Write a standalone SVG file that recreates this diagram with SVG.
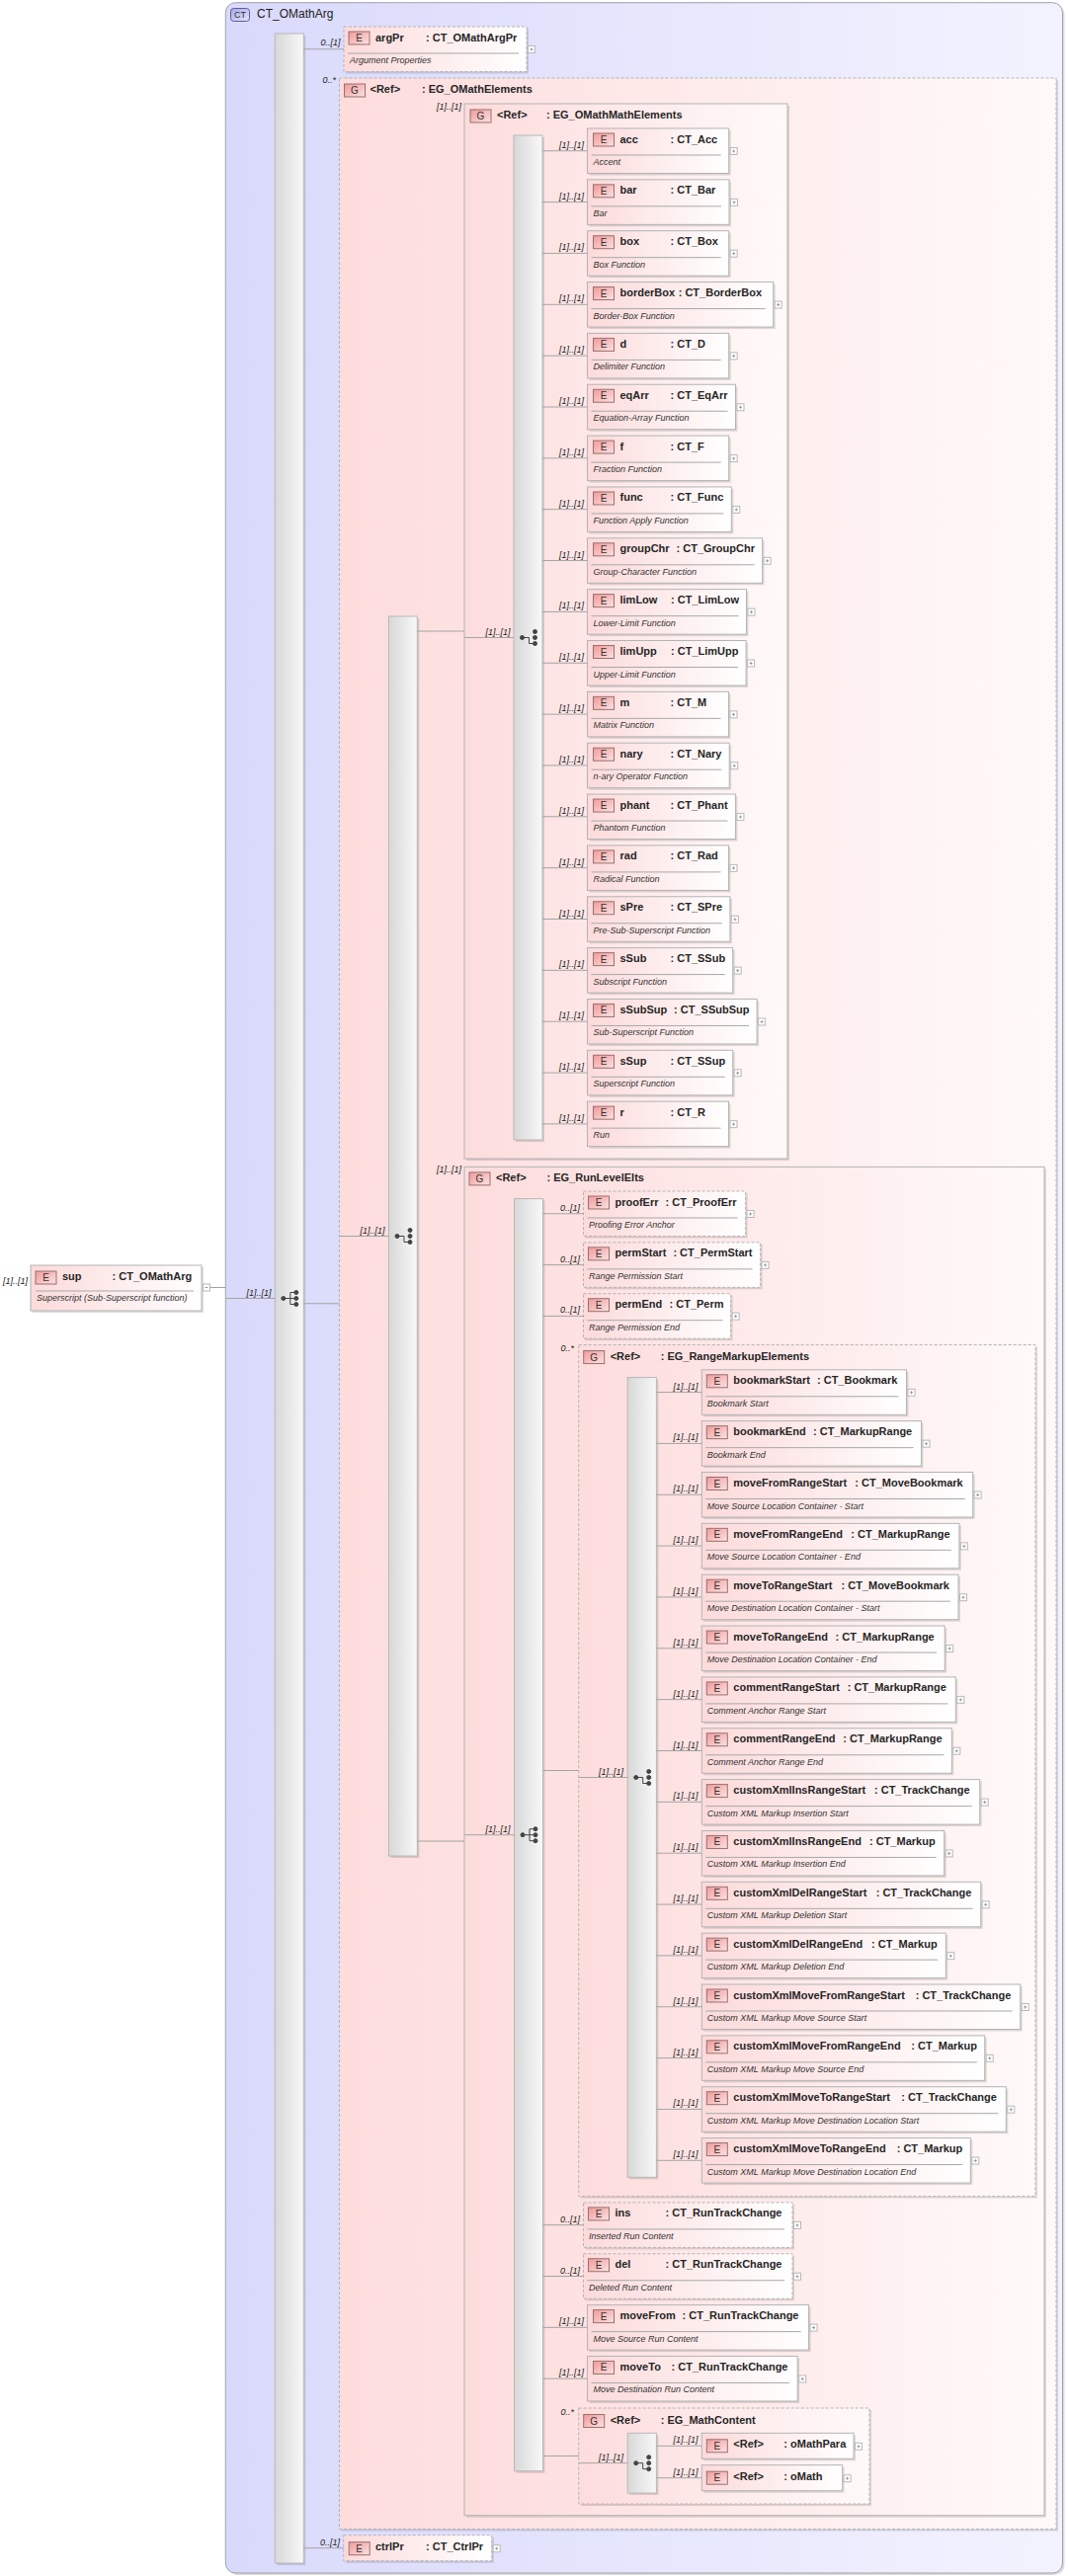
<svg xmlns="http://www.w3.org/2000/svg" width="1081" height="2608" viewBox="0 0 1081 2608">
<defs>
<style>
text{font-family:"Liberation Sans",Arial,sans-serif}
.n{font-size:11px;font-weight:bold;fill:#262626}
.d{font-size:9px;font-style:italic;fill:#333}
.c{font-size:9px;font-style:italic;fill:#222;text-anchor:end}
.il{font-size:10px;fill:#333;text-anchor:middle}
.ln{stroke:#a4a4a4;stroke-width:1;fill:none}
.bx{fill:url(#gE);stroke:#b4b4b4}
.gp{fill:url(#gG);stroke:#b4b4b4}
.ds{stroke-dasharray:3 2}
.sh{fill:#000;fill-opacity:.13}
.sp{stroke:#a8a8a8;fill:none}
.br{fill:url(#gB);stroke:#b8b8b8}
.ic{fill:url(#gI);stroke:#9c6f6f}
.ico{fill:#444;stroke:#444;stroke-width:1}
</style>
<linearGradient id="gCT"><stop offset="0" stop-color="#d9d9fb"/><stop offset="1" stop-color="#f3f3ff"/></linearGradient>
<linearGradient id="gG"><stop offset="0" stop-color="#fddcdc"/><stop offset="1" stop-color="#fff9f9"/></linearGradient>
<linearGradient id="gE"><stop offset="0" stop-color="#fcdada"/><stop offset="1" stop-color="#ffffff"/></linearGradient>
<linearGradient id="gB"><stop offset="0" stop-color="#d8d8d8"/><stop offset="1" stop-color="#f8f8f8"/></linearGradient>
<linearGradient id="gI" x2="1" y2="1"><stop offset="0" stop-color="#ef9a9a"/><stop offset="1" stop-color="#fde2e2"/></linearGradient>
<linearGradient id="gC" x2="1" y2="1"><stop offset="0" stop-color="#a8a8e8"/><stop offset="1" stop-color="#e4e4fc"/></linearGradient>
<g id="pl"><rect x=".5" y=".5" width="7" height="7" fill="#fff" stroke="#b8b8b8"/><path d="M2.5 4H5.5M4 2.5V5.5" stroke="#999"/></g>
<g id="mi"><rect x=".5" y=".5" width="7" height="7" fill="#fff" stroke="#b8b8b8"/><path d="M2.5 4H5.5" stroke="#999"/></g>
<g id="seq" class="ico"><circle cx="8.5" cy="0" r="2"/><path d="M8.5 0H15.5M15.5 -6V6M15.5 -6H21M15.5 0H21M15.5 6H21" fill="none"/><circle cx="21.5" cy="-6" r="2"/><circle cx="21.5" cy="0" r="2"/><circle cx="21.5" cy="6" r="2"/></g>
<g id="cho" class="ico"><circle cx="8.5" cy="0" r="2"/><path d="M8.5 0H15.5V6H21" fill="none"/><circle cx="21.5" cy="-6" r="2"/><circle cx="21.5" cy="0" r="2"/><circle cx="21.5" cy="6" r="2"/></g>
</defs>
<rect width="1081" height="2608" fill="#fff"/>

<!-- left element -->
<g id="n-sup" transform="translate(31,1281)">
<rect class="sh" x="2" y="2" width="173" height="46"/>
<rect class="bx" width="173" height="46"/>
<rect class="ic" x="5" y="6" width="21" height="13"/><text class="il" x="15.5" y="16">E</text>
<text class="n" x="32" y="15">sup</text><text class="n" x="82.6" y="15">: CT_OMathArg</text>
<path class="sp" d="M5 26H165"/>
<text class="d" x="6" y="36">Superscript (Sub-Superscript function)</text>
<use href="#mi" x="174" y="18.5"/>
</g>

<!-- complex type -->
<g id="n-CT_OMathArg">
<rect class="sh" x="230.3" y="4.7" width="847.2" height="2602.3" rx="10"/>
<rect x="228.3" y="2.7" width="847.2" height="2602.3" rx="10" fill="url(#gCT)" stroke="#a0a0a8"/>
<rect x="233.5" y="8.5" width="19" height="13" rx="3" fill="url(#gC)" stroke="#5c5c9c"/>
<text x="243" y="18.3" class="il" style="font-size:9px">CT</text>
<text x="260" y="18" font-size="12" fill="#222">CT_OMathArg</text>
</g>

<g id="c-seq-CT_OMathArg">
<rect class="sh" x="280.3" y="36" width="29" height="2561"/>
<rect class="br" x="278.3" y="34" width="29" height="2561"/>
<use href="#seq" x="278.3" y="1314.5"/>
</g>

<g id="n-argPr" transform="translate(348,27)">
<rect class="sh" x="2" y="2" width="185" height="45.5"/>
<rect class="bx ds" width="185" height="45.5"/>
<rect class="ic" x="5" y="5" width="21" height="13"/><text class="il" x="15.5" y="15">E</text>
<text class="n" x="32" y="14.5">argPr</text><text class="n" x="83" y="14.5">: CT_OMathArgPr</text>
<path class="sp" d="M4 27H177"/>
<text class="d" x="6" y="37">Argument Properties</text>
<use href="#pl" x="186" y="19"/>
</g>

<g id="n-EG_OMathElements" transform="translate(343.5,79)">
<rect class="sh" x="2" y="2" width="725.5" height="2481.5"/>
<rect class="gp ds" width="725.5" height="2481.5"/>
<rect class="ic" x="5" y="6" width="21" height="13"/><text class="il" x="15.5" y="16">G</text>
<text class="n" x="31" y="14.5">&lt;Ref&gt;</text><text class="n" x="83.5" y="14.5">: EG_OMathElements</text>
</g>

<g id="c-cho-EG_OMathElements">
<rect class="sh" x="395.5" y="626" width="28.8" height="1255"/>
<rect class="br" x="393.5" y="624" width="28.8" height="1255"/>
<use href="#cho" x="393.5" y="1251.5"/>
</g>

<g id="n-EG_OMathMathElements" transform="translate(470,105)">
<rect class="sh" x="2" y="2" width="327" height="1068"/>
<rect class="gp" width="327" height="1068"/>
<rect class="ic" x="6" y="6" width="21" height="13"/><text class="il" x="16.5" y="16">G</text>
<text class="n" x="33" y="14.5">&lt;Ref&gt;</text><text class="n" x="83" y="14.5">: EG_OMathMathElements</text>
</g>

<g id="c-cho-EG_OMathMathElements">
<rect class="sh" x="522" y="139" width="29" height="1017"/>
<rect class="br" x="520" y="137" width="29" height="1017"/>
<use href="#cho" x="520" y="645.5"/>
</g>

<g id="n-acc" transform="translate(594.5,130)"><rect class="sh" x="2" y="2" width="143.2" height="45.5"/><rect class="bx" width="143.2" height="45.5"/><rect class="ic" x="6" y="5" width="21" height="13"/><text class="il" x="16.5" y="15">E</text><text class="n" x="33" y="14.5">acc</text><text class="n" x="84" y="14.5">: CT_Acc</text><path class="sp" d="M4 27H135.2"/><text class="d" x="6" y="37">Accent</text><use href="#pl" x="144.2" y="19"/></g>
<g id="n-bar" transform="translate(594.5,181.85)"><rect class="sh" x="2" y="2" width="143.5" height="45.5"/><rect class="bx" width="143.5" height="45.5"/><rect class="ic" x="6" y="5" width="21" height="13"/><text class="il" x="16.5" y="15">E</text><text class="n" x="33" y="14.5">bar</text><text class="n" x="84" y="14.5">: CT_Bar</text><path class="sp" d="M4 27H135.5"/><text class="d" x="6" y="37">Bar</text><use href="#pl" x="144.5" y="19"/></g>
<g id="n-box" transform="translate(594.5,233.7)"><rect class="sh" x="2" y="2" width="143.2" height="45.5"/><rect class="bx" width="143.2" height="45.5"/><rect class="ic" x="6" y="5" width="21" height="13"/><text class="il" x="16.5" y="15">E</text><text class="n" x="33" y="14.5">box</text><text class="n" x="84" y="14.5">: CT_Box</text><path class="sp" d="M4 27H135.2"/><text class="d" x="6" y="37">Box Function</text><use href="#pl" x="144.2" y="19"/></g>
<g id="n-borderBox" transform="translate(594.5,285.55)"><rect class="sh" x="2" y="2" width="188.2" height="45.5"/><rect class="bx" width="188.2" height="45.5"/><rect class="ic" x="6" y="5" width="21" height="13"/><text class="il" x="16.5" y="15">E</text><text class="n" x="33" y="14.5">borderBox</text><text class="n" x="92.2" y="14.5">: CT_BorderBox</text><path class="sp" d="M4 27H180.2"/><text class="d" x="6" y="37">Border-Box Function</text><use href="#pl" x="189.2" y="19"/></g>
<g id="n-d" transform="translate(594.5,337.4)"><rect class="sh" x="2" y="2" width="143.2" height="45.5"/><rect class="bx" width="143.2" height="45.5"/><rect class="ic" x="6" y="5" width="21" height="13"/><text class="il" x="16.5" y="15">E</text><text class="n" x="33" y="14.5">d</text><text class="n" x="84" y="14.5">: CT_D</text><path class="sp" d="M4 27H135.2"/><text class="d" x="6" y="37">Delimiter Function</text><use href="#pl" x="144.2" y="19"/></g>
<g id="n-eqArr" transform="translate(594.5,389.25)"><rect class="sh" x="2" y="2" width="150" height="45.5"/><rect class="bx" width="150" height="45.5"/><rect class="ic" x="6" y="5" width="21" height="13"/><text class="il" x="16.5" y="15">E</text><text class="n" x="33" y="14.5">eqArr</text><text class="n" x="84" y="14.5">: CT_EqArr</text><path class="sp" d="M4 27H142"/><text class="d" x="6" y="37">Equation-Array Function</text><use href="#pl" x="151" y="19"/></g>
<g id="n-f" transform="translate(594.5,441.1)"><rect class="sh" x="2" y="2" width="143.2" height="45.5"/><rect class="bx" width="143.2" height="45.5"/><rect class="ic" x="6" y="5" width="21" height="13"/><text class="il" x="16.5" y="15">E</text><text class="n" x="33" y="14.5">f</text><text class="n" x="84" y="14.5">: CT_F</text><path class="sp" d="M4 27H135.2"/><text class="d" x="6" y="37">Fraction Function</text><use href="#pl" x="144.2" y="19"/></g>
<g id="n-func" transform="translate(594.5,492.95)"><rect class="sh" x="2" y="2" width="145.8" height="45.5"/><rect class="bx" width="145.8" height="45.5"/><rect class="ic" x="6" y="5" width="21" height="13"/><text class="il" x="16.5" y="15">E</text><text class="n" x="33" y="14.5">func</text><text class="n" x="84" y="14.5">: CT_Func</text><path class="sp" d="M4 27H137.8"/><text class="d" x="6" y="37">Function Apply Function</text><use href="#pl" x="146.8" y="19"/></g>
<g id="n-groupChr" transform="translate(594.5,544.8)"><rect class="sh" x="2" y="2" width="177.1" height="45.5"/><rect class="bx" width="177.1" height="45.5"/><rect class="ic" x="6" y="5" width="21" height="13"/><text class="il" x="16.5" y="15">E</text><text class="n" x="33" y="14.5">groupChr</text><text class="n" x="90" y="14.5">: CT_GroupChr</text><path class="sp" d="M4 27H169.1"/><text class="d" x="6" y="37">Group-Character Function</text><use href="#pl" x="178.1" y="19"/></g>
<g id="n-limLow" transform="translate(594.5,596.65)"><rect class="sh" x="2" y="2" width="161" height="45.5"/><rect class="bx" width="161" height="45.5"/><rect class="ic" x="6" y="5" width="21" height="13"/><text class="il" x="16.5" y="15">E</text><text class="n" x="33" y="14.5">limLow</text><text class="n" x="84.5" y="14.5">: CT_LimLow</text><path class="sp" d="M4 27H153"/><text class="d" x="6" y="37">Lower-Limit Function</text><use href="#pl" x="162" y="19"/></g>
<g id="n-limUpp" transform="translate(594.5,648.5)"><rect class="sh" x="2" y="2" width="160.6" height="45.5"/><rect class="bx" width="160.6" height="45.5"/><rect class="ic" x="6" y="5" width="21" height="13"/><text class="il" x="16.5" y="15">E</text><text class="n" x="33" y="14.5">limUpp</text><text class="n" x="84.5" y="14.5">: CT_LimUpp</text><path class="sp" d="M4 27H152.6"/><text class="d" x="6" y="37">Upper-Limit Function</text><use href="#pl" x="161.6" y="19"/></g>
<g id="n-m" transform="translate(594.5,700.35)"><rect class="sh" x="2" y="2" width="143" height="45.5"/><rect class="bx" width="143" height="45.5"/><rect class="ic" x="6" y="5" width="21" height="13"/><text class="il" x="16.5" y="15">E</text><text class="n" x="33" y="14.5">m</text><text class="n" x="84" y="14.5">: CT_M</text><path class="sp" d="M4 27H135"/><text class="d" x="6" y="37">Matrix Function</text><use href="#pl" x="144" y="19"/></g>
<g id="n-nary" transform="translate(594.5,752.2)"><rect class="sh" x="2" y="2" width="143.7" height="45.5"/><rect class="bx" width="143.7" height="45.5"/><rect class="ic" x="6" y="5" width="21" height="13"/><text class="il" x="16.5" y="15">E</text><text class="n" x="33" y="14.5">nary</text><text class="n" x="84" y="14.5">: CT_Nary</text><path class="sp" d="M4 27H135.7"/><text class="d" x="6" y="37">n-ary Operator Function</text><use href="#pl" x="144.7" y="19"/></g>
<g id="n-phant" transform="translate(594.5,804.05)"><rect class="sh" x="2" y="2" width="149.9" height="45.5"/><rect class="bx" width="149.9" height="45.5"/><rect class="ic" x="6" y="5" width="21" height="13"/><text class="il" x="16.5" y="15">E</text><text class="n" x="33" y="14.5">phant</text><text class="n" x="84" y="14.5">: CT_Phant</text><path class="sp" d="M4 27H141.9"/><text class="d" x="6" y="37">Phantom Function</text><use href="#pl" x="150.9" y="19"/></g>
<g id="n-rad" transform="translate(594.5,855.9)"><rect class="sh" x="2" y="2" width="143" height="45.5"/><rect class="bx" width="143" height="45.5"/><rect class="ic" x="6" y="5" width="21" height="13"/><text class="il" x="16.5" y="15">E</text><text class="n" x="33" y="14.5">rad</text><text class="n" x="84" y="14.5">: CT_Rad</text><path class="sp" d="M4 27H135"/><text class="d" x="6" y="37">Radical Function</text><use href="#pl" x="144" y="19"/></g>
<g id="n-sPre" transform="translate(594.5,907.75)"><rect class="sh" x="2" y="2" width="144.4" height="45.5"/><rect class="bx" width="144.4" height="45.5"/><rect class="ic" x="6" y="5" width="21" height="13"/><text class="il" x="16.5" y="15">E</text><text class="n" x="33" y="14.5">sPre</text><text class="n" x="84" y="14.5">: CT_SPre</text><path class="sp" d="M4 27H136.4"/><text class="d" x="6" y="37">Pre-Sub-Superscript Function</text><use href="#pl" x="145.4" y="19"/></g>
<g id="n-sSub" transform="translate(594.5,959.6)"><rect class="sh" x="2" y="2" width="147.2" height="45.5"/><rect class="bx" width="147.2" height="45.5"/><rect class="ic" x="6" y="5" width="21" height="13"/><text class="il" x="16.5" y="15">E</text><text class="n" x="33" y="14.5">sSub</text><text class="n" x="84" y="14.5">: CT_SSub</text><path class="sp" d="M4 27H139.2"/><text class="d" x="6" y="37">Subscript Function</text><use href="#pl" x="148.2" y="19"/></g>
<g id="n-sSubSup" transform="translate(594.5,1011.45)"><rect class="sh" x="2" y="2" width="171.6" height="45.5"/><rect class="bx" width="171.6" height="45.5"/><rect class="ic" x="6" y="5" width="21" height="13"/><text class="il" x="16.5" y="15">E</text><text class="n" x="33" y="14.5">sSubSup</text><text class="n" x="87.6" y="14.5">: CT_SSubSup</text><path class="sp" d="M4 27H163.6"/><text class="d" x="6" y="37">Sub-Superscript Function</text><use href="#pl" x="172.6" y="19"/></g>
<g id="n-sSup" transform="translate(594.5,1063.3)"><rect class="sh" x="2" y="2" width="147.2" height="45.5"/><rect class="bx" width="147.2" height="45.5"/><rect class="ic" x="6" y="5" width="21" height="13"/><text class="il" x="16.5" y="15">E</text><text class="n" x="33" y="14.5">sSup</text><text class="n" x="84" y="14.5">: CT_SSup</text><path class="sp" d="M4 27H139.2"/><text class="d" x="6" y="37">Superscript Function</text><use href="#pl" x="148.2" y="19"/></g>
<g id="n-r" transform="translate(594.5,1115.15)"><rect class="sh" x="2" y="2" width="143" height="45.5"/><rect class="bx" width="143" height="45.5"/><rect class="ic" x="6" y="5" width="21" height="13"/><text class="il" x="16.5" y="15">E</text><text class="n" x="33" y="14.5">r</text><text class="n" x="84" y="14.5">: CT_R</text><path class="sp" d="M4 27H135"/><text class="d" x="6" y="37">Run</text><use href="#pl" x="144" y="19"/></g>

<g id="n-EG_RunLevelElts" transform="translate(470,1181.4)">
<rect class="sh" x="2" y="2" width="587" height="1365.3"/>
<rect class="gp" width="587" height="1365.3"/>
<rect class="ic" x="5" y="5.5" width="21" height="13"/><text class="il" x="15.5" y="15.5">G</text>
<text class="n" x="32" y="14.5">&lt;Ref&gt;</text><text class="n" x="83.5" y="14.5">: EG_RunLevelElts</text>
</g>

<g id="c-seq-EG_RunLevelElts">
<rect class="sh" x="522.5" y="1215.6" width="29" height="1288.1"/>
<rect class="br" x="520.5" y="1213.6" width="29" height="1288.1"/>
<use href="#seq" x="520.5" y="1857.7"/>
</g>

<g id="n-proofErr" transform="translate(590.5,1206)"><rect class="sh" x="2" y="2" width="164.1" height="45.5"/><rect class="bx ds" width="164.1" height="45.5"/><rect class="ic" x="5" y="5" width="21" height="13"/><text class="il" x="15.5" y="15">E</text><text class="n" x="32" y="14.5">proofErr</text><text class="n" x="83" y="14.5">: CT_ProofErr</text><path class="sp" d="M4 27H156.1"/><text class="d" x="5.5" y="37">Proofing Error Anchor</text><use href="#pl" x="165.1" y="19"/></g>
<g id="n-permStart" transform="translate(590.5,1257.85)"><rect class="sh" x="2" y="2" width="179.1" height="45.5"/><rect class="bx ds" width="179.1" height="45.5"/><rect class="ic" x="5" y="5" width="21" height="13"/><text class="il" x="15.5" y="15">E</text><text class="n" x="32" y="14.5">permStart</text><text class="n" x="90.9" y="14.5">: CT_PermStart</text><path class="sp" d="M4 27H171.1"/><text class="d" x="5.5" y="37">Range Permission Start</text><use href="#pl" x="180.1" y="19"/></g>
<g id="n-permEnd" transform="translate(590.5,1309.7)"><rect class="sh" x="2" y="2" width="149.1" height="45.5"/><rect class="bx ds" width="149.1" height="45.5"/><rect class="ic" x="5" y="5" width="21" height="13"/><text class="il" x="15.5" y="15">E</text><text class="n" x="32" y="14.5">permEnd</text><text class="n" x="87" y="14.5">: CT_Perm</text><path class="sp" d="M4 27H141.1"/><text class="d" x="5.5" y="37">Range Permission End</text><use href="#pl" x="150.1" y="19"/></g>

<g id="n-EG_RangeMarkupElements" transform="translate(585.7,1361.55)">
<rect class="sh" x="2" y="2" width="462.3" height="862"/>
<rect class="gp ds" width="462.3" height="862"/>
<rect class="ic" x="5" y="6" width="21" height="13"/><text class="il" x="15.5" y="16">G</text>
<text class="n" x="32" y="15">&lt;Ref&gt;</text><text class="n" x="83" y="15">: EG_RangeMarkupElements</text>
</g>

<g id="c-cho-EG_RangeMarkupElements">
<rect class="sh" x="637.2" y="1396.6" width="29.2" height="809.7"/>
<rect class="br" x="635.2" y="1394.6" width="29.2" height="809.7"/>
<use href="#cho" x="635.2" y="1799.5"/>
</g>

<g id="n-bookmarkStart" transform="translate(710.3,1386.8)"><rect class="sh" x="2" y="2" width="207.2" height="45.5"/><rect class="bx" width="207.2" height="45.5"/><rect class="ic" x="5" y="5" width="21" height="13"/><text class="il" x="15.5" y="15">E</text><text class="n" x="32" y="14.5">bookmarkStart</text><text class="n" x="116.7" y="14.5">: CT_Bookmark</text><path class="sp" d="M4 27H199.2"/><text class="d" x="5.5" y="37">Bookmark Start</text><use href="#pl" x="208.2" y="19"/></g>
<g id="n-bookmarkEnd" transform="translate(710.3,1438.65)"><rect class="sh" x="2" y="2" width="222.2" height="45.5"/><rect class="bx" width="222.2" height="45.5"/><rect class="ic" x="5" y="5" width="21" height="13"/><text class="il" x="15.5" y="15">E</text><text class="n" x="32" y="14.5">bookmarkEnd</text><text class="n" x="112.7" y="14.5">: CT_MarkupRange</text><path class="sp" d="M4 27H214.2"/><text class="d" x="5.5" y="37">Bookmark End</text><use href="#pl" x="223.2" y="19"/></g>
<g id="n-moveFromRangeStart" transform="translate(710.3,1490.5)"><rect class="sh" x="2" y="2" width="274.4" height="45.5"/><rect class="bx" width="274.4" height="45.5"/><rect class="ic" x="5" y="5" width="21" height="13"/><text class="il" x="15.5" y="15">E</text><text class="n" x="32" y="14.5">moveFromRangeStart</text><text class="n" x="155" y="14.5">: CT_MoveBookmark</text><path class="sp" d="M4 27H266.4"/><text class="d" x="5.5" y="37">Move Source Location Container - Start</text><use href="#pl" x="275.4" y="19"/></g>
<g id="n-moveFromRangeEnd" transform="translate(710.3,1542.35)"><rect class="sh" x="2" y="2" width="260.6" height="45.5"/><rect class="bx" width="260.6" height="45.5"/><rect class="ic" x="5" y="5" width="21" height="13"/><text class="il" x="15.5" y="15">E</text><text class="n" x="32" y="14.5">moveFromRangeEnd</text><text class="n" x="151" y="14.5">: CT_MarkupRange</text><path class="sp" d="M4 27H252.6"/><text class="d" x="5.5" y="37">Move Source Location Container - End</text><use href="#pl" x="261.6" y="19"/></g>
<g id="n-moveToRangeStart" transform="translate(710.3,1594.2)"><rect class="sh" x="2" y="2" width="259.7" height="45.5"/><rect class="bx" width="259.7" height="45.5"/><rect class="ic" x="5" y="5" width="21" height="13"/><text class="il" x="15.5" y="15">E</text><text class="n" x="32" y="14.5">moveToRangeStart</text><text class="n" x="141.2" y="14.5">: CT_MoveBookmark</text><path class="sp" d="M4 27H251.7"/><text class="d" x="5.5" y="37">Move Destination Location Container - Start</text><use href="#pl" x="260.7" y="19"/></g>
<g id="n-moveToRangeEnd" transform="translate(710.3,1646.05)"><rect class="sh" x="2" y="2" width="245.9" height="45.5"/><rect class="bx" width="245.9" height="45.5"/><rect class="ic" x="5" y="5" width="21" height="13"/><text class="il" x="15.5" y="15">E</text><text class="n" x="32" y="14.5">moveToRangeEnd</text><text class="n" x="135.2" y="14.5">: CT_MarkupRange</text><path class="sp" d="M4 27H237.9"/><text class="d" x="5.5" y="37">Move Destination Location Container - End</text><use href="#pl" x="246.9" y="19"/></g>
<g id="n-commentRangeStart" transform="translate(710.3,1697.9)"><rect class="sh" x="2" y="2" width="257" height="45.5"/><rect class="bx" width="257" height="45.5"/><rect class="ic" x="5" y="5" width="21" height="13"/><text class="il" x="15.5" y="15">E</text><text class="n" x="32" y="14.5">commentRangeStart</text><text class="n" x="147.4" y="14.5">: CT_MarkupRange</text><path class="sp" d="M4 27H249"/><text class="d" x="5.5" y="37">Comment Anchor Range Start</text><use href="#pl" x="258" y="19"/></g>
<g id="n-commentRangeEnd" transform="translate(710.3,1749.75)"><rect class="sh" x="2" y="2" width="253" height="45.5"/><rect class="bx" width="253" height="45.5"/><rect class="ic" x="5" y="5" width="21" height="13"/><text class="il" x="15.5" y="15">E</text><text class="n" x="32" y="14.5">commentRangeEnd</text><text class="n" x="143" y="14.5">: CT_MarkupRange</text><path class="sp" d="M4 27H245"/><text class="d" x="5.5" y="37">Comment Anchor Range End</text><use href="#pl" x="254" y="19"/></g>
<g id="n-customXmlInsRangeStart" transform="translate(710.3,1801.6)"><rect class="sh" x="2" y="2" width="281.4" height="45.5"/><rect class="bx" width="281.4" height="45.5"/><rect class="ic" x="5" y="5" width="21" height="13"/><text class="il" x="15.5" y="15">E</text><text class="n" x="32" y="14.5">customXmlInsRangeStart</text><text class="n" x="174.7" y="14.5">: CT_TrackChange</text><path class="sp" d="M4 27H273.4"/><text class="d" x="5.5" y="37">Custom XML Markup Insertion Start</text><use href="#pl" x="282.4" y="19"/></g>
<g id="n-customXmlInsRangeEnd" transform="translate(710.3,1853.45)"><rect class="sh" x="2" y="2" width="245.4" height="45.5"/><rect class="bx" width="245.4" height="45.5"/><rect class="ic" x="5" y="5" width="21" height="13"/><text class="il" x="15.5" y="15">E</text><text class="n" x="32" y="14.5">customXmlInsRangeEnd</text><text class="n" x="169.7" y="14.5">: CT_Markup</text><path class="sp" d="M4 27H237.4"/><text class="d" x="5.5" y="37">Custom XML Markup Insertion End</text><use href="#pl" x="246.4" y="19"/></g>
<g id="n-customXmlDelRangeStart" transform="translate(710.3,1905.3)"><rect class="sh" x="2" y="2" width="282.4" height="45.5"/><rect class="bx" width="282.4" height="45.5"/><rect class="ic" x="5" y="5" width="21" height="13"/><text class="il" x="15.5" y="15">E</text><text class="n" x="32" y="14.5">customXmlDelRangeStart</text><text class="n" x="176.4" y="14.5">: CT_TrackChange</text><path class="sp" d="M4 27H274.4"/><text class="d" x="5.5" y="37">Custom XML Markup Deletion Start</text><use href="#pl" x="283.4" y="19"/></g>
<g id="n-customXmlDelRangeEnd" transform="translate(710.3,1957.15)"><rect class="sh" x="2" y="2" width="247" height="45.5"/><rect class="bx" width="247" height="45.5"/><rect class="ic" x="5" y="5" width="21" height="13"/><text class="il" x="15.5" y="15">E</text><text class="n" x="32" y="14.5">customXmlDelRangeEnd</text><text class="n" x="171.7" y="14.5">: CT_Markup</text><path class="sp" d="M4 27H239"/><text class="d" x="5.5" y="37">Custom XML Markup Deletion End</text><use href="#pl" x="248" y="19"/></g>
<g id="n-customXmlMoveFromRangeStart" transform="translate(710.3,2009)"><rect class="sh" x="2" y="2" width="322.4" height="45.5"/><rect class="bx" width="322.4" height="45.5"/><rect class="ic" x="5" y="5" width="21" height="13"/><text class="il" x="15.5" y="15">E</text><text class="n" x="32" y="14.5">customXmlMoveFromRangeStart</text><text class="n" x="216.4" y="14.5">: CT_TrackChange</text><path class="sp" d="M4 27H314.4"/><text class="d" x="5.5" y="37">Custom XML Markup Move Source Start</text><use href="#pl" x="323.4" y="19"/></g>
<g id="n-customXmlMoveFromRangeEnd" transform="translate(710.3,2060.85)"><rect class="sh" x="2" y="2" width="286.4" height="45.5"/><rect class="bx" width="286.4" height="45.5"/><rect class="ic" x="5" y="5" width="21" height="13"/><text class="il" x="15.5" y="15">E</text><text class="n" x="32" y="14.5">customXmlMoveFromRangeEnd</text><text class="n" x="212" y="14.5">: CT_Markup</text><path class="sp" d="M4 27H278.4"/><text class="d" x="5.5" y="37">Custom XML Markup Move Source End</text><use href="#pl" x="287.4" y="19"/></g>
<g id="n-customXmlMoveToRangeStart" transform="translate(710.3,2112.7)"><rect class="sh" x="2" y="2" width="308" height="45.5"/><rect class="bx" width="308" height="45.5"/><rect class="ic" x="5" y="5" width="21" height="13"/><text class="il" x="15.5" y="15">E</text><text class="n" x="32" y="14.5">customXmlMoveToRangeStart</text><text class="n" x="202" y="14.5">: CT_TrackChange</text><path class="sp" d="M4 27H300"/><text class="d" x="5.5" y="37">Custom XML Markup Move Destination Location Start</text><use href="#pl" x="309" y="19"/></g>
<g id="n-customXmlMoveToRangeEnd" transform="translate(710.3,2164.55)"><rect class="sh" x="2" y="2" width="272" height="45.5"/><rect class="bx" width="272" height="45.5"/><rect class="ic" x="5" y="5" width="21" height="13"/><text class="il" x="15.5" y="15">E</text><text class="n" x="32" y="14.5">customXmlMoveToRangeEnd</text><text class="n" x="197.4" y="14.5">: CT_Markup</text><path class="sp" d="M4 27H264"/><text class="d" x="5.5" y="37">Custom XML Markup Move Destination Location End</text><use href="#pl" x="273" y="19"/></g>

<g id="n-ins" transform="translate(590.5,2229.9)"><rect class="sh" x="2" y="2" width="211.5" height="45.5"/><rect class="bx ds" width="211.5" height="45.5"/><rect class="ic" x="5" y="5" width="21" height="13"/><text class="il" x="15.5" y="15">E</text><text class="n" x="32" y="14.5">ins</text><text class="n" x="83" y="14.5">: CT_RunTrackChange</text><path class="sp" d="M4 27H203.5"/><text class="d" x="5.5" y="37">Inserted Run Content</text><use href="#pl" x="212.5" y="19"/></g>
<g id="n-del" transform="translate(590.5,2281.75)"><rect class="sh" x="2" y="2" width="211.5" height="45.5"/><rect class="bx ds" width="211.5" height="45.5"/><rect class="ic" x="5" y="5" width="21" height="13"/><text class="il" x="15.5" y="15">E</text><text class="n" x="32" y="14.5">del</text><text class="n" x="83" y="14.5">: CT_RunTrackChange</text><path class="sp" d="M4 27H203.5"/><text class="d" x="5.5" y="37">Deleted Run Content</text><use href="#pl" x="212.5" y="19"/></g>
<g id="n-moveFrom" transform="translate(594.5,2333.6)"><rect class="sh" x="2" y="2" width="224.1" height="45.5"/><rect class="bx" width="224.1" height="45.5"/><rect class="ic" x="6" y="5" width="21" height="13"/><text class="il" x="16.5" y="15">E</text><text class="n" x="33" y="14.5">moveFrom</text><text class="n" x="96" y="14.5">: CT_RunTrackChange</text><path class="sp" d="M4 27H216.1"/><text class="d" x="6" y="37">Move Source Run Content</text><use href="#pl" x="225.1" y="19"/></g>
<g id="n-moveTo" transform="translate(594.5,2385.45)"><rect class="sh" x="2" y="2" width="212.7" height="45.5"/><rect class="bx" width="212.7" height="45.5"/><rect class="ic" x="6" y="5" width="21" height="13"/><text class="il" x="16.5" y="15">E</text><text class="n" x="33" y="14.5">moveTo</text><text class="n" x="85" y="14.5">: CT_RunTrackChange</text><path class="sp" d="M4 27H204.7"/><text class="d" x="6" y="37">Move Destination Run Content</text><use href="#pl" x="213.7" y="19"/></g>

<g id="n-EG_MathContent" transform="translate(585.7,2438)">
<rect class="sh" x="2" y="2" width="294.3" height="97"/>
<rect class="gp ds" width="294.3" height="97"/>
<rect class="ic" x="5" y="6.5" width="21" height="13"/><text class="il" x="15.5" y="16.5">G</text>
<text class="n" x="32" y="15.5">&lt;Ref&gt;</text><text class="n" x="83" y="15.5">: EG_MathContent</text>
</g>

<g id="c-cho-EG_MathContent">
<rect class="sh" x="637.2" y="2465.3" width="29.2" height="60.7"/>
<rect class="br" x="635.2" y="2463.3" width="29.2" height="60.7"/>
<use href="#cho" x="635.2" y="2493.7"/>
</g>

<g id="n-oMathPara" transform="translate(710.3,2463.3)"><rect class="sh" x="2" y="2" width="153.7" height="26"/><rect class="bx" width="153.7" height="26"/><rect class="ic" x="5" y="6.5" width="21" height="13"/><text class="il" x="15.5" y="16.5">E</text><text class="n" x="32" y="15">&lt;Ref&gt;</text><text class="n" x="83" y="15">: oMathPara</text><use href="#pl" x="154.7" y="9.5"/></g>
<g id="n-oMath" transform="translate(710.3,2495.7)"><rect class="sh" x="2" y="2" width="142.3" height="26"/><rect class="bx" width="142.3" height="26"/><rect class="ic" x="5" y="6.5" width="21" height="13"/><text class="il" x="15.5" y="16.5">E</text><text class="n" x="32" y="15">&lt;Ref&gt;</text><text class="n" x="83" y="15">: oMath</text><use href="#pl" x="143.3" y="9.5"/></g>

<g id="n-ctrlPr" transform="translate(347.7,2566.7)"><rect class="sh" x="2" y="2" width="150" height="26"/><rect class="bx ds" width="150" height="26"/><rect class="ic" x="5.5" y="7" width="21" height="13"/><text class="il" x="16" y="17">E</text><text class="n" x="32.3" y="15">ctrlPr</text><text class="n" x="83.3" y="15">: CT_CtrlPr</text><use href="#pl" x="151" y="9.5"/></g>

<g id="connectors">
<path class="ln" d="M213 1303.5H228.3M228.3 1314.5H278.3M307.3 49.75H348M307.3 1319.75H343.5M307.3 2579.7H347.7M343.5 1251.5H393.5M422.3 639H470M422.3 1864H470M470 645.5H520M470 1857.7H520.5"/>
<path class="ln" d="M549 152.75H594.5M549 204.6H594.5M549 256.45H594.5M549 308.3H594.5M549 360.15H594.5M549 412H594.5M549 463.85H594.5M549 515.7H594.5M549 567.55H594.5M549 619.4H594.5M549 671.25H594.5M549 723.1H594.5M549 774.95H594.5M549 826.8H594.5M549 878.65H594.5M549 930.5H594.5M549 982.35H594.5M549 1034.2H594.5M549 1086.05H594.5M549 1137.9H594.5"/>
<path class="ln" d="M549.5 1228.75H590.5M549.5 1280.6H590.5M549.5 1332.45H590.5M549.5 1792.5H585.7M549.5 2252.65H590.5M549.5 2304.5H590.5M549.5 2356.35H594.5M549.5 2408.2H594.5M549.5 2486.5H585.7M585.7 1799.5H635.2M585.7 2493.7H635.2"/>
<path class="ln" d="M664.4 1409.55H710.3M664.4 1461.4H710.3M664.4 1513.25H710.3M664.4 1565.1H710.3M664.4 1616.95H710.3M664.4 1668.8H710.3M664.4 1720.65H710.3M664.4 1772.5H710.3M664.4 1824.35H710.3M664.4 1876.2H710.3M664.4 1928.05H710.3M664.4 1979.9H710.3M664.4 2031.75H710.3M664.4 2083.6H710.3M664.4 2135.45H710.3M664.4 2187.3H710.3M664.4 2476.3H710.3M664.4 2508.7H710.3"/>
<text class="c" x="28" y="1300">[1]..[1]</text>
<text class="c" x="274.5" y="1311.5">[1]..[1]</text>
<text class="c" x="344.5" y="46">0..[1]</text>
<text class="c" x="340" y="84">0..*</text>
<text class="c" x="344" y="2576.7">0..[1]</text>
<text class="c" x="389.5" y="1248.5">[1]..[1]</text>
<text class="c" x="467" y="111">[1]..[1]</text>
<text class="c" x="467" y="1187">[1]..[1]</text>
<text class="c" x="516.5" y="642.5">[1]..[1]</text>
<text class="c" x="516.5" y="1854.7">[1]..[1]</text>
<text class="c" x="591" y="149.75">[1]..[1]</text>
<text class="c" x="591" y="201.6">[1]..[1]</text>
<text class="c" x="591" y="253.45">[1]..[1]</text>
<text class="c" x="591" y="305.3">[1]..[1]</text>
<text class="c" x="591" y="357.15">[1]..[1]</text>
<text class="c" x="591" y="409">[1]..[1]</text>
<text class="c" x="591" y="460.85">[1]..[1]</text>
<text class="c" x="591" y="512.7">[1]..[1]</text>
<text class="c" x="591" y="564.55">[1]..[1]</text>
<text class="c" x="591" y="616.4">[1]..[1]</text>
<text class="c" x="591" y="668.25">[1]..[1]</text>
<text class="c" x="591" y="720.1">[1]..[1]</text>
<text class="c" x="591" y="771.95">[1]..[1]</text>
<text class="c" x="591" y="823.8">[1]..[1]</text>
<text class="c" x="591" y="875.65">[1]..[1]</text>
<text class="c" x="591" y="927.5">[1]..[1]</text>
<text class="c" x="591" y="979.35">[1]..[1]</text>
<text class="c" x="591" y="1031.2">[1]..[1]</text>
<text class="c" x="591" y="1083.05">[1]..[1]</text>
<text class="c" x="591" y="1134.9">[1]..[1]</text>
<text class="c" x="587" y="1225.75">0..[1]</text>
<text class="c" x="587" y="1277.6">0..[1]</text>
<text class="c" x="587" y="1329.45">0..[1]</text>
<text class="c" x="581" y="1368">0..*</text>
<text class="c" x="631" y="1796.5">[1]..[1]</text>
<text class="c" x="587" y="2249.65">0..[1]</text>
<text class="c" x="587" y="2301.5">0..[1]</text>
<text class="c" x="591" y="2353.35">[1]..[1]</text>
<text class="c" x="591" y="2405.2">[1]..[1]</text>
<text class="c" x="581" y="2445">0..*</text>
<text class="c" x="631" y="2490.7">[1]..[1]</text>
<text class="c" x="706.5" y="1406.55">[1]..[1]</text>
<text class="c" x="706.5" y="1458.4">[1]..[1]</text>
<text class="c" x="706.5" y="1510.25">[1]..[1]</text>
<text class="c" x="706.5" y="1562.1">[1]..[1]</text>
<text class="c" x="706.5" y="1613.95">[1]..[1]</text>
<text class="c" x="706.5" y="1665.8">[1]..[1]</text>
<text class="c" x="706.5" y="1717.65">[1]..[1]</text>
<text class="c" x="706.5" y="1769.5">[1]..[1]</text>
<text class="c" x="706.5" y="1821.35">[1]..[1]</text>
<text class="c" x="706.5" y="1873.2">[1]..[1]</text>
<text class="c" x="706.5" y="1925.05">[1]..[1]</text>
<text class="c" x="706.5" y="1976.9">[1]..[1]</text>
<text class="c" x="706.5" y="2028.75">[1]..[1]</text>
<text class="c" x="706.5" y="2080.6">[1]..[1]</text>
<text class="c" x="706.5" y="2132.45">[1]..[1]</text>
<text class="c" x="706.5" y="2184.3">[1]..[1]</text>
<text class="c" x="706.5" y="2473.3">[1]..[1]</text>
<text class="c" x="706.5" y="2505.7">[1]..[1]</text>
</g>
</svg>
